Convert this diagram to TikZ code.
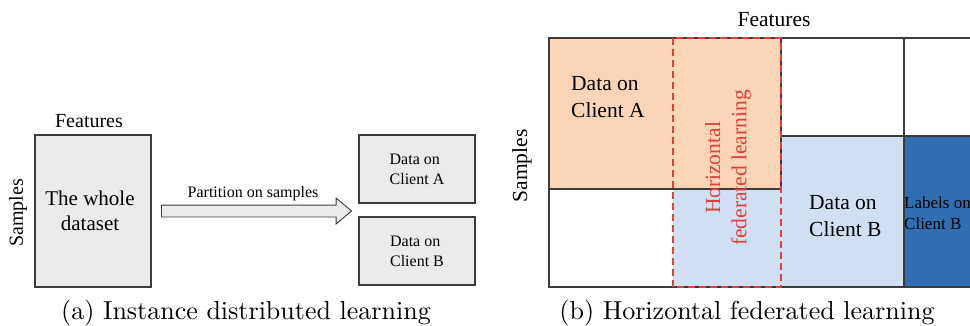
\documentclass[tikz,border=0pt]{standalone}
\usepackage{fontspec}
\newfontfamily\tnr{Liberation Serif}
\newfontfamily\capfont{lmroman10-regular}[Extension=.otf]
\usetikzlibrary{shapes.arrows}
\definecolor{peach}{HTML}{FBD5B5}
\definecolor{lblue}{HTML}{D0E0F2}
\definecolor{dblue}{HTML}{2F6FB1}
\definecolor{boxgray}{HTML}{EBEBEB}
\definecolor{edge}{HTML}{3C3C3C}
\definecolor{hred}{HTML}{E0403A}
\begin{document}
\begin{tikzpicture}[x=1pt,y=-1pt,
  graybox/.style={draw=edge,line width=1.2pt,fill=boxgray,inner sep=0pt,align=left},
  cell/.style={draw=edge,line width=1.2pt},
  lab/.style={font=\tnr\fontsize{#1pt}{1.22\dimexpr#1pt\relax}\selectfont,inner sep=0pt},
  captext/.style={font=\capfont\fontsize{26}{30}\selectfont,inner sep=0pt}]
\useasboundingbox (0,0) rectangle (970,325);
% ---------- (a) ----------
\node[graybox,minimum width=116pt,minimum height=152pt,align=center,
      font=\tnr\fontsize{21}{25}\selectfont] (whole) at (93,211) {The whole\hspace*{6pt}\\dataset\hspace*{6pt}};
\node[lab=20,anchor=south] (featA) at (89,128) {Features};
\node[lab=20,rotate=90] (sampA) at (18,213) {Samples};
\node[graybox,minimum width=116pt,minimum height=68pt,font=\tnr\fontsize{16}{20}\selectfont] (ca) at (417,169) {Data on\\Client A};
\node[graybox,minimum width=116pt,minimum height=68pt,font=\tnr\fontsize{16}{20}\selectfont] (cb) at (417,251) {Data on\\Client B};
\node[single arrow,draw=edge,line width=0.9pt,fill=boxgray,inner xsep=0pt,inner ysep=5.5pt,
      minimum height=190pt,single arrow head extend=7pt,single arrow tip angle=80] (arr) at (253,211) {};
\node[lab=16,anchor=base] (part) at (253,197) {Partition on samples};
\node[captext] (capA) at (246,313) {(a) Instance distributed learning};
% ---------- (b) ----------
\fill[white] (549,38) rectangle (975,287);
\fill[lblue] (673,136) rectangle (904,287);
\fill[peach] (549,38) rectangle (781,189);
\fill[dblue] (904,136) rectangle (975,287);
\draw[cell] (549,38) rectangle (781,189);
\draw[cell] (549,189) -- (549,287) -- (975,287);
\draw[cell] (549,38) -- (975,38);
\draw[cell] (781,136) -- (975,136);
\draw[cell] (904,38) -- (904,287);
\draw[hred,line width=1.2pt,dash pattern=on 7pt off 4pt] (673,38) rectangle (781,287);
\node[lab=21.5] (featB) at (774,20) {Features};
\node[lab=21.5,rotate=90] (sampB) at (522,166) {Samples};
\node[lab=21.5,anchor=west,align=left] (da) at (571,97) {Data on\\Client A};
\node[lab=21.5,anchor=west,align=left] (db) at (809,216) {Data on\\Client B};
\node[lab=17,anchor=west,align=left] (lb) at (904,213) {Labels on\\Client B};
\node[lab=21.5,rotate=90,align=center,text=hred] (hfl) at (728,168) {Horizontal\\federated learning};
\node[captext] (capB) at (747,313) {(b) Horizontal federated learning};
\end{tikzpicture}
\end{document}
